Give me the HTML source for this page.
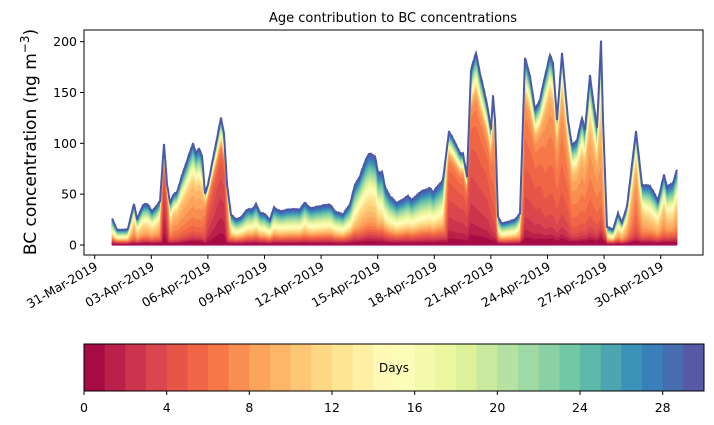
<!DOCTYPE html>
<html><head><meta charset="utf-8"><style>
body{margin:0;background:#fff;}
svg{display:block;font-family:"DejaVu Sans","Liberation Sans",sans-serif;}
</style></head><body>
<svg id="s" width="714" height="425" xmlns="http://www.w3.org/2000/svg">
<text x="393" y="22" font-size="13" text-anchor="middle">Age contribution to BC concentrations</text>
<text transform="translate(36,142) rotate(-90)" font-size="17" text-anchor="middle">BC concentration (ng m<tspan font-size="12" dy="-7">−3</tspan><tspan dy="7">)</tspan></text>
<g id="plot"></g>
<rect x="84" y="30" width="619" height="225" fill="none" stroke="#000" stroke-width="1"/>
<g id="axes" font-size="12.5"></g>
<g id="cb"></g>
<rect x="84" y="344" width="620" height="47" fill="none" stroke="#000" stroke-width="1"/>
<text x="394" y="372" font-size="12" text-anchor="middle">Days</text>
</svg>
<script>
var NS="http://www.w3.org/2000/svg";
function el(t,a,p){var e=document.createElementNS(NS,t);for(var k in a)e.setAttribute(k,a[k]);if(p)p.appendChild(e);return e;}
var anc=["#9e0142","#d53e4f","#f46d43","#fdae61","#fee08b","#ffffbf","#e6f598","#abdda4","#66c2a5","#3288bd","#5e4fa2"];
function hx(h){return [parseInt(h.substr(1,2),16),parseInt(h.substr(3,2),16),parseInt(h.substr(5,2),16)];}
function cmap(t){t=Math.max(0,Math.min(1,t))*10;var i=Math.min(9,Math.floor(t)),f=t-i;var a=hx(anc[i]),b=hx(anc[i+1]);
return "rgb("+a.map(function(v,j){return Math.round(v+(b[j]-v)*f);}).join(",")+")";}
function col(k){return cmap((k+0.5)/30);}
var D=[[112,26,12],[117,15,12],[125,15,12],[128,16,11],[134,41,9],[137,25,10],[141,35,10],[144,40,10],[148,40,10],[152,33,10],[156,38,10],[160,43,9],
[164,100,2.5],[167,60,4],[170,42,9],[174,50,8],[177,52,8],[181,65,8],[186,80,8],[193,100,8],[196,90,8],[199,95,8],[202,88,8],[205,50,6],[208,60,4],[213,85,3.5],[218,110,3],[221,125,3],[224,110,3],[227,60,6],[231,30,11],[236,25,12],
[242,28,12],[247,35,12],[252,35,12],[256,40,12],[260,32,12],[265,30,12],[270,25,12],[274,37,12],[280,33,12],[290,35,12],[300,35,12],[305,42,11],[310,36,12],[320,38,12],[330,40,12],[335,33,12],[343,30,12],[350,40,12],[355,59,11],
[360,68,10],[367,87,10],[370,90,10],[375,87,10],[378,71,11],[382,72,11],[385,57,12],[390,48,12],[397,41,12],[408,48,12],[412,44,12],[420,52,12],[430,56,12],[433,52,12],[443,64,11],
[449,112,4],[457,97,4],[460,90,4],[463,90,4],[467,67,4],[471,172,4],[476,189,4.5],[480,169,4.5],[487,139,4.5],[491,113,5],[493,147,6],[495,123,6],[498,28,12],[502,21,12],[515,25,12],[520,31,10],
[525,184,5],[530,166,5],[535,133,5],[540,143,5],[545,166,6],[550,187,6],[553,179,6],[557,123,6],[562,189,6],[568,123,6],[572,98,7],[577,103,7],[582,125,7],[585,113,7],[590,167,7],[593,143,7],[597,115,7],[601,201,8],[603,123,8],[607,18,12],
[613,15,12],[618,31,10],[622,22,10],[627,38,9],[636,112,7],[642,59,9],[650,58,10],[658,44,10],[664,69,9],[667,57,10],[673,61,10],[677,74,9]];
function yv(v){return 245-v*1.0167;}
var P=[];
for(var i=0;i<D.length-1;i++){var a=D[i],b=D[i+1];for(var x=a[0];x<b[0];x+=1){var f=(x-a[0])/(b[0]-a[0]);
 var w=(x*7.3)%3; P.push([x,a[1]+(b[1]-a[1])*f+(w-1.5)*0.5*Math.min(1,a[1]/40),a[2]+(b[2]-a[2])*f]);}}
P.push(D[D.length-1]);
function sig(z){return 1/(1+Math.exp(-z));}
function F(k,c){
 var m=Math.max(0,Math.min(0.72,(11.5-c)/7.5));
 var y=(sig((k-c)/1.2)-sig(-c/1.2))/(sig((30-c)/1.2)-sig(-c/1.2));
 var o=Math.pow(k/30,1.05);
 var v=m*y+(1-m)*o;
 var base=0.02;
 return Math.min(1,base+(1-base)*v);}
var g=document.getElementById("plot");
for(var k=30;k>=1;k--){var d="M"+P[0][0]+","+yv(0);
 for(var j=0;j<P.length;j++){var fr=(k==30)?1:F(k,P[j][2]);d+="L"+P[j][0]+","+yv(P[j][1]*fr).toFixed(1);}
 d+="L"+P[P.length-1][0]+","+yv(0)+"Z";el("path",{d:d,fill:col(k-1),stroke:col(k-1),"stroke-width":"0.4"},g);}
var d2="";for(var j=0;j<P.length;j++){d2+=(j?"L":"M")+P[j][0]+","+yv(P[j][1]).toFixed(1);}
el("path",{d:d2,fill:"none",stroke:"#4a5aa8","stroke-width":"2"},g);
el("line",{x1:112,y1:245,x2:677,y2:245,stroke:"#b0135a","stroke-width":"1.2"},g);
var ax=document.getElementById("axes");
[0,50,100,150,200].forEach(function(v){var y=yv(v);el("line",{x1:80,y1:y,x2:84,y2:y,stroke:"#000"},ax);var t=el("text",{x:77,y:y+4.5,"text-anchor":"end"},ax);t.textContent=v;});
var labs=["31-Mar-2019","03-Apr-2019","06-Apr-2019","09-Apr-2019","12-Apr-2019","15-Apr-2019","18-Apr-2019","21-Apr-2019","24-Apr-2019","27-Apr-2019","30-Apr-2019"];
labs.forEach(function(l,i){var x=94.7+56.6*i;el("line",{x1:x,y1:255,x2:x,y2:259,stroke:"#000"},ax);
 var t=el("text",{transform:"translate("+(x+4)+",269) rotate(-30)","text-anchor":"end"},ax);t.textContent=l;});
var cb=document.getElementById("cb");var wv=620/30;
for(var k=0;k<30;k++)el("rect",{x:84+k*wv,y:344,width:wv+0.5,height:47,fill:col(k)},cb);
for(var k=0;k<=28;k+=4){var x=84+k*wv;el("line",{x1:x,y1:391,x2:x,y2:395,stroke:"#000"},cb);var t=el("text",{x:x,y:412,"text-anchor":"middle","font-size":"12.5"},cb);t.textContent=k;}
</script>
</body></html>
